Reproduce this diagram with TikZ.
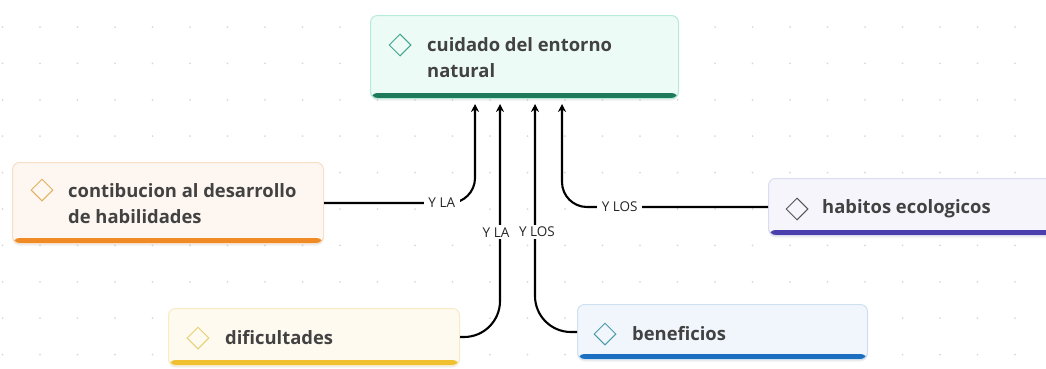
\documentclass[tikz,border=0pt]{standalone}
\usepackage{fontspec}
\setmainfont{Open Sans}
\usetikzlibrary{arrows.meta,shapes.geometric,shadows}
\definecolor{txt}{HTML}{424242}
\definecolor{dotc}{HTML}{D9D9D9}
\definecolor{tFill}{HTML}{EDFBF6}\definecolor{tLine}{HTML}{B6EBD7}\definecolor{tBar}{HTML}{1F7A5C}\definecolor{tDia}{HTML}{3FA58A}
\definecolor{cFill}{HTML}{FEF7F1}\definecolor{cLine}{HTML}{F8DFC8}\definecolor{cBar}{HTML}{EF8A25}\definecolor{cDia}{HTML}{E0B060}
\definecolor{hFill}{HTML}{F5F5FB}\definecolor{hLine}{HTML}{DCDCF0}\definecolor{hBar}{HTML}{4B3FAE}\definecolor{hDia}{HTML}{555555}
\definecolor{dFill}{HTML}{FFFAF0}\definecolor{dLine}{HTML}{F8EBC4}\definecolor{dBar}{HTML}{F0C030}\definecolor{dDia}{HTML}{E6CF70}
\definecolor{bFill}{HTML}{F1F6FC}\definecolor{bLine}{HTML}{CFE0F0}\definecolor{bBar}{HTML}{1C6EC0}\definecolor{bDia}{HTML}{4A9AAA}
\tikzset{
  mbox/.style n args={3}{anchor=north west, inner sep=0pt, rounded corners=7pt,
    fill=#1, draw=#2, line width=1pt,
    drop shadow={opacity=0.12, shadow xshift=0pt, shadow yshift=-2pt},
    path picture={\fill[#3] ([yshift=5.5pt]path picture bounding box.south west) rectangle (path picture bounding box.south east);}},
  icon/.style={diamond, draw=#1, line width=1pt, minimum size=22pt, inner sep=0pt},
  mtext/.style={anchor=west, align=left, text=txt, font=\bfseries\fontsize{18.4}{26}\selectfont, inner sep=0pt},
  lbl/.style={sharp corners, fill=white, text=black!85, font=\fontsize{13.5}{15}\selectfont, inner xsep=4.5pt, inner ysep=2pt},
  conn/.style={line width=2.1pt, -{Stealth[length=8pt,width=8pt]}}
}
\begin{document}
\begin{tikzpicture}[x=1pt,y=-1pt]
\useasboundingbox[fill=white] (0,0) rectangle (1046,368);
% dot grid
\foreach \i in {0,...,27}{
  \foreach \j in {0,...,9}{
    \fill[dotc] (2.5+37.5*\i, 27+36.4*\j) circle (1pt);
  }
}
% boxes
\node[mbox={tFill}{tLine}{tBar}, minimum width=308pt, minimum height=83pt] (top) at (370,15) {};
\node[mbox={cFill}{cLine}{cBar}, minimum width=311pt, minimum height=81pt] (contib) at (12,162) {};
\node[mbox={hFill}{hLine}{hBar}, minimum width=300pt, minimum height=57pt] (habitos) at (768,178) {};
\node[mbox={dFill}{dLine}{dBar}, minimum width=291pt, minimum height=57pt] (dific) at (168,308) {};
\node[mbox={bFill}{bLine}{bBar}, minimum width=290pt, minimum height=55pt] (benef) at (577,304) {};
% icons
\node[icon=tDia] (ti) at (400,45) {};
\node[icon=cDia] (ci) at (42,190) {};
\node[icon=hDia] (hi) at (797,209) {};
\node[icon=dDia] (di) at (198,338) {};
\node[icon=bDia] (bi) at (605,334) {};
% texts
\node[mtext] (tt) at (427,58) {cuidado del entorno\\natural};
\node[mtext] (ct) at (68,204) {contibucion al desarrollo\\de habilidades};
\node[mtext] (ht) at (822,209) {habitos ecologicos};
\node[mtext] (dt) at (225,338) {dificultades};
\node[mtext] (bt) at (632,334) {beneficios};
% connectors
\draw[conn, rounded corners=25pt, shorten >=5pt] (contib.east) -| node[lbl, pos=0.39] (l1) {Y LA} ([xshift=105pt]top.south west);
\draw[conn, rounded corners=25pt, shorten >=5pt] (habitos.west) -| node[lbl, pos=0.36] (l2) {Y LOS} ([xshift=192pt]top.south west);
\draw[conn, rounded corners=36pt, shorten >=5pt] (dific.east) -| node[lbl, pos=0.72, xshift=-4pt, inner xsep=1pt] (l3) {Y LA} ([xshift=130pt]top.south west);
\draw[conn, rounded corners=36pt, shorten >=5pt] (benef.west) -| node[lbl, pos=0.715, xshift=2pt, inner xsep=1pt] (l4) {Y LOS} ([xshift=165pt]top.south west);
\end{tikzpicture}
\end{document}
